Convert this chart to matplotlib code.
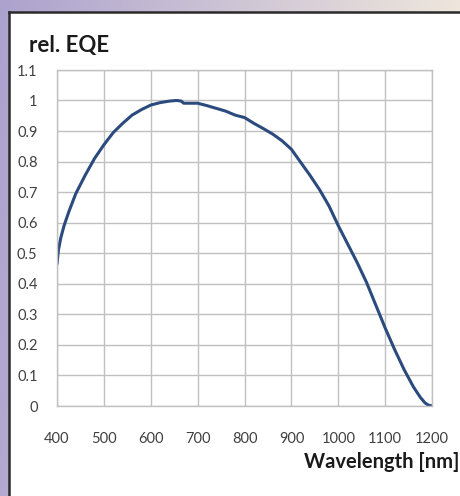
import numpy as np
import matplotlib
matplotlib.use("Agg")
import matplotlib.pyplot as plt
from matplotlib.patches import Rectangle
from matplotlib.lines import Line2D

wavelength = [400, 403, 408, 415, 425, 440, 460, 480, 500, 520, 540, 560, 580, 600,
              620, 640, 655, 665, 670, 700, 720, 740, 760, 780, 800, 820, 840, 860,
              880, 900, 920, 940, 960, 980, 1000, 1020, 1040, 1060, 1080, 1100, 1120,
              1140, 1160, 1175, 1185, 1192, 1200]
rel_eqe = [0.465, 0.51, 0.55, 0.59, 0.635, 0.695, 0.755, 0.81, 0.855, 0.895, 0.925,
           0.952, 0.970, 0.985, 0.993, 0.998, 1.0, 0.998, 0.991, 0.991, 0.983, 0.974,
           0.965, 0.952, 0.944, 0.925, 0.908, 0.89, 0.868, 0.84, 0.797, 0.754, 0.708,
           0.655, 0.59, 0.53, 0.47, 0.405, 0.33, 0.255, 0.185, 0.12, 0.063, 0.028,
           0.01, 0.003, 0.0]
x_ticks = [400, 500, 600, 700, 800, 900, 1000, 1100, 1200]
y_ticks = [0, 0.1, 0.2, 0.3, 0.4, 0.5, 0.6, 0.7, 0.8, 0.9, 1, 1.1]
y_labels = ["0", "0.1", "0.2", "0.3", "0.4", "0.5", "0.6", "0.7", "0.8", "0.9", "1", "1.1"]

plt.rcParams['font.family'] = ['Lato', 'DejaVu Sans']

W, H = 460, 496
fig = plt.figure(figsize=(W / 100 + 0.001, H / 100 + 0.001), dpi=100)
fig.patch.set_facecolor('white')

# background gradient
bg = fig.add_axes([0, 0, 1, 1])
bg.set_axis_off()
xs = np.linspace(0, 1, 200)
ys = np.linspace(0, 1, 200)
X, Y = np.meshgrid(xs, ys)
c1 = np.array([172, 162, 206]) / 255.0  # lavender
c2 = np.array([246, 238, 222]) / 255.0  # cream
t = np.clip(X * 0.9 + Y * 0.1, 0, 1)[..., None]
img = c1 * (1 - t) + c2 * t
bg.imshow(img, extent=[0, 1, 0, 1], origin='upper', aspect='auto')
bg.set_xlim(0, 1)
bg.set_ylim(0, 1)
# white panel
px0 = 9 / W
py1 = 1 - 12 / H
bg.add_patch(Rectangle((px0, -0.01), 1.02 - px0, py1 + 0.01, facecolor='white',
                       edgecolor='none', clip_on=False))
bg.add_line(Line2D([px0, px0], [0, py1], color='#2a2a2a', linewidth=1.8))
bg.add_line(Line2D([px0, 1.02], [py1, py1], color='#2a2a2a', linewidth=1.8,
                   clip_on=False))

ax = fig.add_axes([57 / W, 90 / H, 375 / W, 336 / H])
ax.plot(wavelength, rel_eqe, color='#2b4a7e', linewidth=2.2, solid_capstyle='round',
        solid_joinstyle='round')
ax.set_xlim(400, 1200)
ax.set_ylim(0, 1.1)
ax.set_xticks(x_ticks)
ax.set_yticks(y_ticks)
ax.set_yticklabels(y_labels)
ax.grid(True, color='#c0c0c0', linewidth=1.0)
ax.set_axisbelow(True)
for s in ax.spines.values():
    s.set_color('#c0c0c0')
    s.set_linewidth(1.0)
ax.tick_params(length=0, labelsize=10.5, colors='#404040')
ax.tick_params(axis='x', pad=19)
ax.tick_params(axis='y', pad=14)

fig.text(29 / W, 1 - 45 / H, "rel. EQE", fontsize=16, fontweight='bold',
         color='#1a1a1a', ha='left', va='center')
fig.text(459 / W, 1 - 462 / H, "Wavelength [nm]", fontsize=14.5, fontweight='bold',
         color='#1a1a1a', ha='right', va='center')

fig.savefig("out.png", dpi=100)
